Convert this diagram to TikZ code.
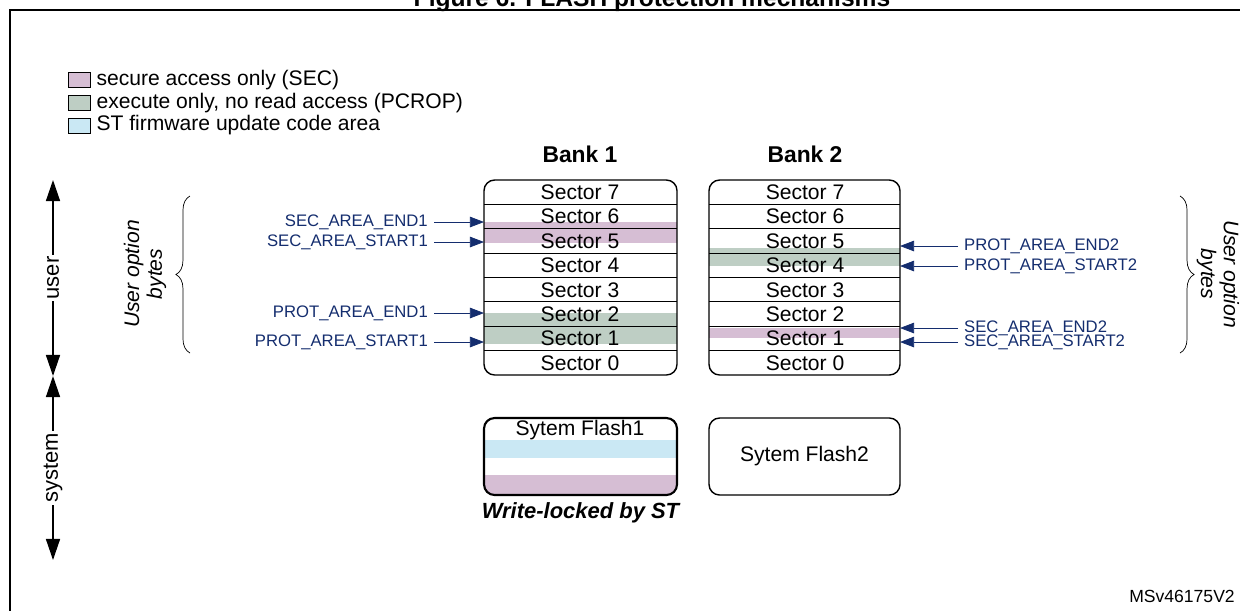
\documentclass[tikz,border=0pt]{standalone}
\usepackage{fontspec}
\setmainfont{Liberation Sans}
\usetikzlibrary{positioning,decorations.pathreplacing,arrows.meta}
\definecolor{secpink}{RGB}{214,190,212}
\definecolor{pcropgreen}{RGB}{190,206,196}
\definecolor{stcyan}{RGB}{202,232,244}
\definecolor{lblue}{RGB}{20,45,110}
\tikzset{
	bankbox/.style = {draw, thick, rounded corners=6pt},
	sectxt/.style = {font=\fontsize{12}{12}\selectfont},
	lbl/.style = {font=\fontsize{9.5}{10}\selectfont, text=lblue},
	lblarrow/.style = {-{Triangle[length=8pt,width=6pt]}, lblue},
	bigarrow/.style = {{Triangle[length=12pt,width=8pt]}-{Triangle[length=12pt,width=8pt]}, thick},
	legbox/.style = {draw, minimum width=0.44cm, minimum height=0.3cm, inner sep=0pt},
	legtxt/.style = {font=\fontsize{12}{12}\selectfont, anchor=west},
}
\begin{document}
\begin{tikzpicture}[x=0.02cm, y=-0.02cm]
	\useasboundingbox (0,0) rectangle (1240,610);
	\draw[thick] (10,10) rectangle (1250,620);
	\node[font=\bfseries\fontsize{14}{14}\selectfont] (title) at (652,0) {Figure 6. FLASH protection mechanisms};
	% legend
	\node[legbox, fill=secpink] (lsec) at (79,80) {};
	\node[legbox, fill=pcropgreen, below=0.14cm of lsec] (lprot) {};
	\node[legbox, fill=stcyan, below=0.14cm of lprot] (lst) {};
	\node[legtxt] at (lsec.east) {secure access only (SEC)};
	\node[legtxt] at (lprot.east) {execute only, no read access (PCROP)};
	\node[legtxt] at (lst.east) {ST firmware update code area};
	% banks
	\node[font=\bfseries\fontsize{13}{13}\selectfont] (b1) at (580,154) {Bank 1};
	\node[font=\bfseries\fontsize{13}{13}\selectfont] (b2) at (805,154) {Bank 2};
	\fill[secpink] (484,222) rectangle (677,243);
	\fill[pcropgreen] (484,313) rectangle (677,344);
	\fill[pcropgreen] (709,248) rectangle (900,266);
	\fill[secpink] (709,328) rectangle (900,338);
	\foreach \i in {0,...,7}{
		\node[sectxt] (sa\i) at (580,{363-24.4*\i}) {Sector \i};
		\node[sectxt] (sb\i) at (805,{363-24.4*\i}) {Sector \i};
	}
	\foreach \i in {1,...,7}{
		\draw (484,{375-24.4*\i}) -- (677,{375-24.4*\i});
		\draw (709,{375-24.4*\i}) -- (900,{375-24.4*\i});
	}
	\node[bankbox, minimum width=3.86cm, minimum height=3.9cm] (bank1) at (580.5,277.5) {};
	\node[bankbox, minimum width=3.82cm, minimum height=3.9cm] (bank2) at (804.5,277.5) {};
	% system flash
	\fill[stcyan] (484,440) rectangle (677,458);
	\fill[secpink, rounded corners=6pt] (484,475) rectangle (677,495);
	\fill[secpink] (484,475) rectangle (677,485);
	\node[draw, very thick, rounded corners=6pt, minimum width=3.86cm, minimum height=1.54cm] (sf1) at (580.5,456.5) {};
	\node[sectxt] at (580,430) {Sytem Flash1};
	\node[draw, thick, rounded corners=6pt, minimum width=3.82cm, minimum height=1.54cm, sectxt] (sf2) at (804.5,456.5) {Sytem Flash2};
	\node[font=\bfseries\itshape\fontsize{12.5}{12.5}\selectfont, below=0cm of sf1] (wl) {Write-locked by ST};
	% left labels
	\foreach \y/\t/\n in {222/SEC\_AREA\_END1/se1, 242/SEC\_AREA\_START1/ss1, 313/PROT\_AREA\_END1/pe1, 342/PROT\_AREA\_START1/ps1}{
		\coordinate (c\n) at (484,\y);
		\node[lbl, anchor=east] (\n) at (434,\y) {\t};
		\draw[lblarrow] (\n.east) -- (c\n);
	}
	% right labels
	\foreach \y/\t/\n in {246/PROT\_AREA\_END2/pe2, 266/PROT\_AREA\_START2/ps2, 328/SEC\_AREA\_END2/se2, 342/SEC\_AREA\_START2/ss2}{
		\coordinate (c\n) at (900,\y);
		\node[lbl, anchor=west] (\n) at (958,\y) {\t};
		\draw[lblarrow] (\n.west) -- (c\n);
	}
	% braces
	\coordinate (lbt) at (190,196);
	\coordinate (lbb) at (190,353);
	\draw[decorate, decoration={brace, amplitude=8pt}] (lbb) -- (lbt);
	\node[rotate=90, align=center, font=\itshape\fontsize{12}{13}\selectfont] (lob) at (145,274) {User option\\bytes};
	\coordinate (rbt) at (1180,196);
	\coordinate (rbb) at (1180,353);
	\draw[decorate, decoration={brace, amplitude=8pt}] (rbt) -- (rbb);
	\node[rotate=-90, align=center, font=\itshape\fontsize{12}{13}\selectfont] (rob) at (1218,274) {User option\\bytes};
	% user / system
	\coordinate (ut) at (53,180);
	\coordinate (ub) at (53,376);
	\coordinate (st) at (53,376);
	\coordinate (sb) at (53,560);
	\draw[bigarrow] (ut) -- node[fill=white, rotate=90, inner sep=1pt, font=\fontsize{12.5}{12.5}\selectfont] (usr) {user} (ub);
	\draw[bigarrow] (st) -- node[fill=white, rotate=90, inner sep=1pt, font=\fontsize{12.5}{12.5}\selectfont] (sys) {system} (sb);
	\node[font=\fontsize{10}{10}\selectfont] (ref) at (1182,596) {MSv46175V2};
\end{tikzpicture}
\end{document}
